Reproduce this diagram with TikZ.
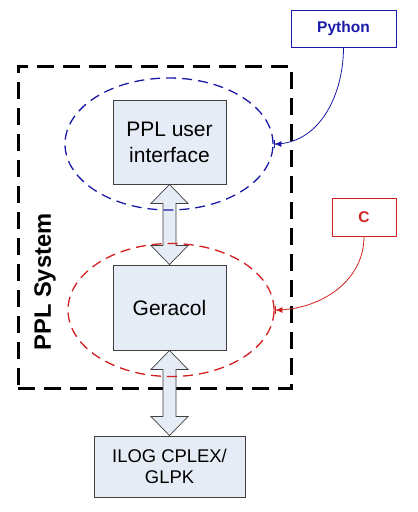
\documentclass[tikz,border=0pt]{standalone}
\usepackage{fontspec}
\setmainfont{Liberation Sans}
\usetikzlibrary{arrows.meta,shapes.geometric,calc}
\definecolor{boxfill}{HTML}{E6ECF5}
\definecolor{boxline}{HTML}{404040}
\definecolor{pyblue}{HTML}{1A1AA8}
\definecolor{cred}{HTML}{D42020}
\tikzset{
  gbox/.style={draw=boxline, line width=0.9pt, fill=boxfill, align=center, inner sep=0pt},
  lang/.style={draw=#1, line width=0.9pt, fill=white, text=#1, font=\bfseries\fontsize{15.5}{18}\selectfont, inner sep=0pt},
  zone/.style={ellipse, draw=#1, line width=1.3pt, dash pattern=on 10pt off 6pt, inner sep=0pt},
  darr/.style={draw=boxline, line width=0.7pt, fill=boxfill},
  link/.style={draw=#1, line width=0.8pt, -{Latex[length=7pt,width=6pt]Bar[width=8pt]}}
}
\newcommand\dblarr[2]{%
  \path[darr] let \p1=(#1.south), \p2=(#2.north) in
    (\x1,\y1) -- (\x1+18.5pt,\y1-19pt) -- (\x1+6.5pt,\y1-19pt) -- (\x1+6.5pt,\y2+19pt)
    -- (\x1+18.5pt,\y2+19pt) -- (\x1,\y2) -- (\x1-18.5pt,\y2+19pt) -- (\x1-6.5pt,\y2+19pt)
    -- (\x1-6.5pt,\y1-19pt) -- (\x1-18.5pt,\y1-19pt) -- cycle;}
\begin{document}
\begin{tikzpicture}[x=1pt,y=-1pt]
\useasboundingbox[fill=white] (0,0) rectangle (418,512);
% system frame
\node[draw=black, line width=3pt, dash pattern=on 17pt off 9pt, minimum width=273pt, minimum height=322pt, inner sep=0pt] (sys) at (154.5,227) {};
\node[rotate=90, font=\bfseries\fontsize{23.7}{28}\selectfont] (syslabel) at (45,282) {PPL System};
% boxes
\node[gbox, minimum width=113pt, minimum height=84pt, font=\fontsize{21}{26}\selectfont] (ui) at (169.5,142) {PPL user\\interface};
\node[gbox, minimum width=113pt, minimum height=85pt, font=\fontsize{21}{26}\selectfont] (ger) at (169.5,307.5) {Geracol};
\node[gbox, minimum width=151pt, minimum height=61pt, font=\fontsize{18.4}{21}\selectfont] (ilog) at (169.5,466.5) {ILOG CPLEX/\\GLPK};
% double arrows
\dblarr{ui}{ger}
\dblarr{ger}{ilog}
% zones
\node[zone=pyblue, minimum width=208pt, minimum height=132pt] (e1) at (169,144) {};
\node[zone=cred, minimum width=206pt, minimum height=133pt] (e2) at (171,310) {};
% languages
\node[lang=pyblue, minimum width=105pt, minimum height=37pt] (py) at (343.5,28.5) {Python};
\node[lang=cred, minimum width=64pt, minimum height=38pt] (c) at (364,217) {C};
\draw[link=pyblue] (py.south) to[out=-90,in=0] (e1.east);
\draw[link=cred] (c.south) to[out=-90,in=0] (e2.east);
\end{tikzpicture}
\end{document}
